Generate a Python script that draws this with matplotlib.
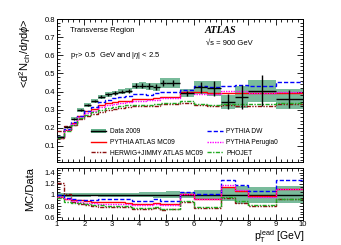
import numpy as np
import matplotlib
matplotlib.use("Agg")
import matplotlib.pyplot as plt
from matplotlib.ticker import MultipleLocator, FuncFormatter
from matplotlib.patches import Patch
from matplotlib.lines import Line2D

plt.rcParams['font.family'] = ['Liberation Sans', 'DejaVu Sans']
plt.rcParams['mathtext.fontset'] = 'custom'
plt.rcParams['mathtext.rm'] = 'Liberation Sans'
plt.rcParams['mathtext.it'] = 'Liberation Sans:italic'

# --- data ---
bin_edges = [1.0, 1.25, 1.5, 1.75, 2.0, 2.25, 2.5, 2.75, 3.0, 3.25, 3.5, 3.75, 4.0,
             4.25, 4.5, 4.75, 5.0, 5.5, 6.0, 6.5, 7.0, 7.5, 8.0, 9.0, 10.0]
data_2009 = [0.150, 0.205, 0.250, 0.298, 0.327, 0.348, 0.372, 0.385, 0.393, 0.400,
             0.406, 0.432, 0.432, 0.430, 0.424, 0.448, 0.448, 0.390, 0.423, 0.418,
             0.344, 0.371, 0.404, 0.359]
data_sys = [0.006, 0.007, 0.008, 0.009, 0.010, 0.010, 0.011, 0.012, 0.012, 0.013,
            0.014, 0.018, 0.020, 0.020, 0.021, 0.026, 0.028, 0.022, 0.038, 0.040,
            0.040, 0.062, 0.060, 0.055]
data_stat = [0.002, 0.003, 0.004, 0.005, 0.006, 0.007, 0.008, 0.008, 0.009, 0.010,
             0.011, 0.013, 0.014, 0.015, 0.016, 0.018, 0.018, 0.015, 0.032, 0.040,
             0.042, 0.065, 0.085, 0.052]

# MC / Data ratios
ratio_mc09 = [0.97, 0.93, 0.91, 0.90, 0.89, 0.88, 0.87, 0.87, 0.87, 0.87, 0.86, 0.83,
              0.83, 0.84, 0.86, 0.83, 0.83, 1.02, 0.935, 0.935, 1.14, 1.065, 0.975, 1.10]
ratio_dw = [0.99, 0.95, 0.92, 0.90, 0.90, 0.91, 0.92, 0.92, 0.93, 0.93, 0.93, 0.89,
            0.89, 0.89, 0.92, 0.89, 0.89, 1.05, 1.02, 1.02, 1.26, 1.18, 1.065, 1.26]
ratio_perugia0 = [0.97, 0.92, 0.89, 0.87, 0.86, 0.85, 0.84, 0.84, 0.84, 0.84, 0.84, 0.81,
                  0.81, 0.82, 0.84, 0.81, 0.82, 1.01, 0.92, 0.92, 1.17, 1.09, 0.97, 1.11]
ratio_phojet = [0.95, 0.88, 0.86, 0.85, 0.83, 0.82, 0.81, 0.80, 0.80, 0.80, 0.80, 0.76,
                0.76, 0.76, 0.78, 0.755, 0.755, 0.89, 0.78, 0.78, 0.96, 0.89, 0.815, 0.935]
ratio_herwig = [1.21, 1.02, 0.87, 0.84, 0.81, 0.80, 0.78, 0.78, 0.78, 0.78, 0.78, 0.74,
                0.74, 0.745, 0.76, 0.735, 0.74, 0.87, 0.77, 0.77, 0.95, 0.86, 0.80, 0.92]

edges = np.array(bin_edges)
data = np.array(data_2009)
sys_err = np.array(data_sys)
centers = 0.5 * (edges[:-1] + edges[1:])
widths = np.diff(edges)

band_col = '#62b08a'
mc_styles = [
    ("PYTHIA ATLAS MC09", ratio_mc09, '#ff0000', '-'),
    ("HERWIG+JIMMY ATLAS MC09", ratio_herwig, '#8b1010', (0, (3, 1, 1, 1, 1, 1))),
    ("PYTHIA DW", ratio_dw, '#0000ff', (0, (3, 1.5))),
    ("PYTHIA Perugia0", ratio_perugia0, '#ff00ff', (0, (1, 0.8))),
    ("PHOJET", ratio_phojet, '#22aa22', (0, (3, 1, 1, 1))),
]

fig = plt.figure(figsize=(3.41, 2.45), dpi=100)
ax = fig.add_axes([0.167, 0.339, 0.722, 0.583])
axr = fig.add_axes([0.167, 0.102, 0.722, 0.212])

# --- main panel ---
ax.bar(centers, 2 * sys_err, bottom=data - sys_err, width=widths,
       color=band_col, alpha=0.85, linewidth=0, zorder=1)
handles = {}
for name, r, col, ls in mc_styles:
    vals = np.array(r) * data
    ax.stairs(vals, edges, color=col, linestyle=ls, linewidth=1.0, baseline=None, zorder=3)
    handles[name] = Line2D([], [], color=col, linestyle=ls, linewidth=1.0)
ax.errorbar(centers, data, xerr=widths / 2, yerr=data_stat, fmt='none',
            ecolor='black', elinewidth=1.0, capsize=0, zorder=4)

ax.set_xlim(1, 10)
ax.set_ylim(0.012, 0.8)
ax.set_xticklabels([])
ax.yaxis.set_major_locator(MultipleLocator(0.1))
ax.yaxis.set_minor_locator(MultipleLocator(0.02))

ax.text(0.055, 0.91, "Transverse Region", transform=ax.transAxes, fontsize=5.5)
ax.text(0.055, 0.735, r"p$_{\mathrm{T}}$> 0.5  GeV and |$\eta$| < 2.5",
        transform=ax.transAxes, fontsize=5.5)
ax.text(0.6, 0.905, "ATLAS", transform=ax.transAxes, fontsize=7.5,
        fontweight='bold', fontstyle='italic', family='Liberation Serif')
ax.text(0.605, 0.82, "√s = 900 GeV", transform=ax.transAxes, fontsize=5.5)

data_handle = (Patch(facecolor=band_col, edgecolor='none'),
               Line2D([], [], color='black', linewidth=1.0))
leg_kw = dict(frameon=False, fontsize=4.8, handlelength=2.3, labelspacing=0.55,
              handletextpad=0.5, borderaxespad=0, loc='upper left')
leg1 = ax.legend([data_handle, handles["PYTHIA ATLAS MC09"], handles["HERWIG+JIMMY ATLAS MC09"]],
                 ["Data 2009", "PYTHIA ATLAS MC09", "HERWIG+JIMMY ATLAS MC09"],
                 bbox_to_anchor=(0.128, 0.255), **leg_kw)
ax.add_artist(leg1)
ax.legend([handles["PYTHIA DW"], handles["PYTHIA Perugia0"], handles["PHOJET"]],
          ["PYTHIA DW", "PYTHIA Perugia0", "PHOJET"],
          bbox_to_anchor=(0.6, 0.255), **leg_kw)

# --- ratio panel ---
axr.bar(centers, 2 * sys_err / data, bottom=1 - sys_err / data, width=widths,
        color=band_col, alpha=0.85, linewidth=0, zorder=1)
axr.axhline(1.0, color='black', linewidth=1.0, zorder=2)
for name, r, col, ls in mc_styles:
    axr.stairs(r, edges, color=col, linestyle=ls, linewidth=1.0, baseline=None, zorder=3)

axr.set_xlim(1, 10)
axr.set_ylim(0.55, 1.48)
axr.yaxis.set_major_locator(MultipleLocator(0.2))
axr.yaxis.set_minor_locator(MultipleLocator(0.05))
axr.xaxis.set_major_locator(MultipleLocator(1))

fmt = FuncFormatter(lambda v, pos: f"{v:g}")
for a in (ax, axr):
    a.xaxis.set_minor_locator(MultipleLocator(0.2))
    a.yaxis.set_major_formatter(fmt)
    a.tick_params(which='both', direction='in', top=True, right=True, labelsize=5.5,
                  width=0.6, pad=1.5)
    a.tick_params(which='major', length=4)
    a.tick_params(which='minor', length=2)
    for s in a.spines.values():
        s.set_linewidth(0.7)
axr.tick_params(axis='y', which='major', length=3)
axr.tick_params(axis='x', pad=1.0)

fig.text(0.075, 0.925, r"<d$^{2}$N$_{\mathrm{ch}}$/d$\eta$d$\phi$>", rotation=90,
         ha='center', va='top', fontsize=8)
fig.text(0.088, 0.318, "MC/Data", rotation=90, ha='center', va='top', fontsize=8)
fig.text(0.893, 0.0, r"p$_{\mathrm{T}}^{\mathrm{lead}}$ [GeV]", ha='right', va='bottom',
         fontsize=7.5)

fig.savefig("out.png", dpi=100)
